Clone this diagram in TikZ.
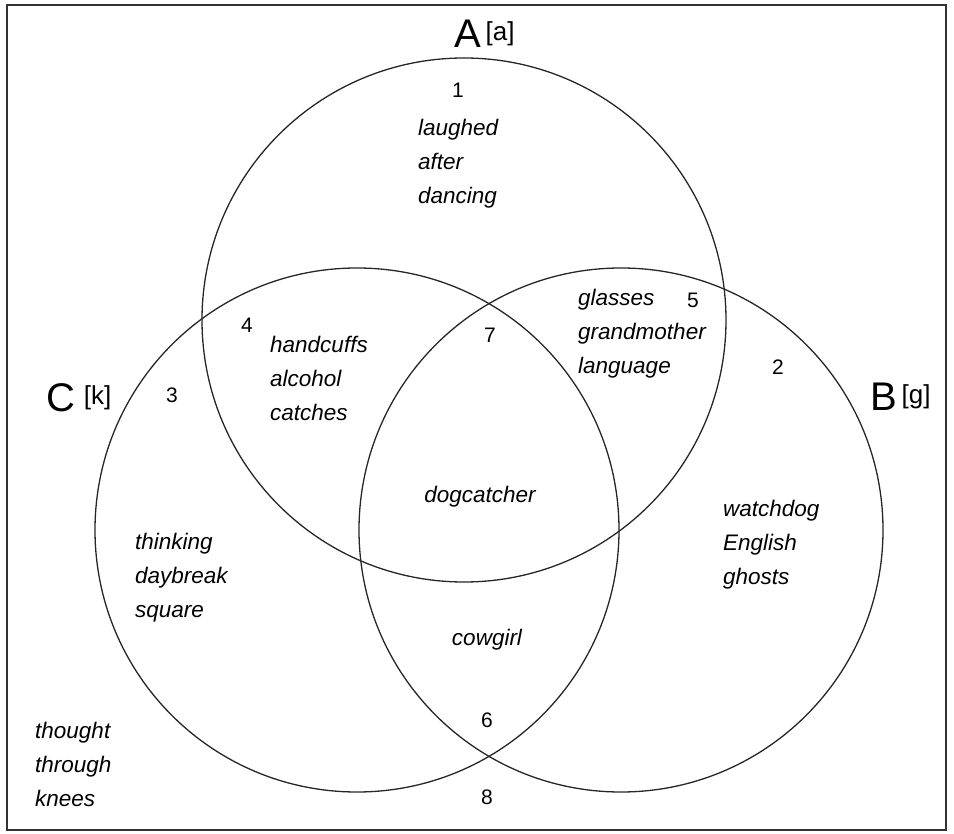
\documentclass[tikz,border=0pt]{standalone}
\usepackage{fontspec}
\setmainfont{Liberation Sans}
\usetikzlibrary{positioning}

\begin{document}
\begin{tikzpicture}[x=1pt,y=-1pt,node distance=5pt]
	\tikzstyle{set} = [draw=black!85, circle, line width=1.3pt, minimum size=524pt, inner sep=0pt]
	\tikzstyle{setname} = [font=\fontsize{40}{40}\selectfont, inner sep=0pt]
	\tikzstyle{sound} = [font=\fontsize{26}{26}\selectfont, inner sep=0pt]
	\tikzstyle{region} = [font=\fontsize{21}{21}\selectfont, inner sep=0pt]
	\tikzstyle{words} = [font=\fontsize{22.5}{34}\selectfont\itshape, align=left, inner sep=0pt, anchor=west]

	\useasboundingbox (0,0) rectangle (954,834);
	\draw[line width=2pt, black!80] (7,5) rectangle (946,830);

	% the three sets
	\node[set] (setA) at (464,320) {};
	\node[set] (setB) at (621,530) {};
	\node[set] (setC) at (357,530) {};

	\node[setname] (nameA) at (468,34) {A};
	\node[sound] (soundA) [right=4pt of nameA] {[a]};
	\node[setname] (nameB) at (884,397) {B};
	\node[sound] (soundB) [right=4pt of nameB] {[g]};
	\node[setname] (nameC) at (61,398) {C};
	\node[sound] (soundC) [right=8pt of nameC] {[k]};

	% region numbers
	\node[region] (r1) at (458,90) {1};
	\node[region] (r2) at (778,367) {2};
	\node[region] (r3) at (172,395) {3};
	\node[region] (r4) at (247,325) {4};
	\node[region] (r5) at (693,300) {5};
	\node[region] (r6) at (487,720) {6};
	\node[region] (r7) at (490,335) {7};
	\node[region] (r8) at (487,797) {8};

	% words in each region
	\node[words] (wordsA) at (418,164) {laughed\\after\\dancing};
	\node[words] (wordsAC) at (270,378) {handcuffs\\alcohol\\catches};
	\node[words] (wordsAB) at (578,334) {glasses\\grandmother\\language};
	\node[words] (wordsC) at (135,578) {thinking\\daybreak\\square};
	\node[words] (wordsB) at (723,545) {watchdog\\English\\ghosts};
	\node[words] (wordsNone) at (35,764) {thought\\through\\knees};
	\node[words, anchor=center] (wordsABC) at (480,497) {dogcatcher};
	\node[words, anchor=center] (wordsBC) at (487,640) {cowgirl};
\end{tikzpicture}
\end{document}
